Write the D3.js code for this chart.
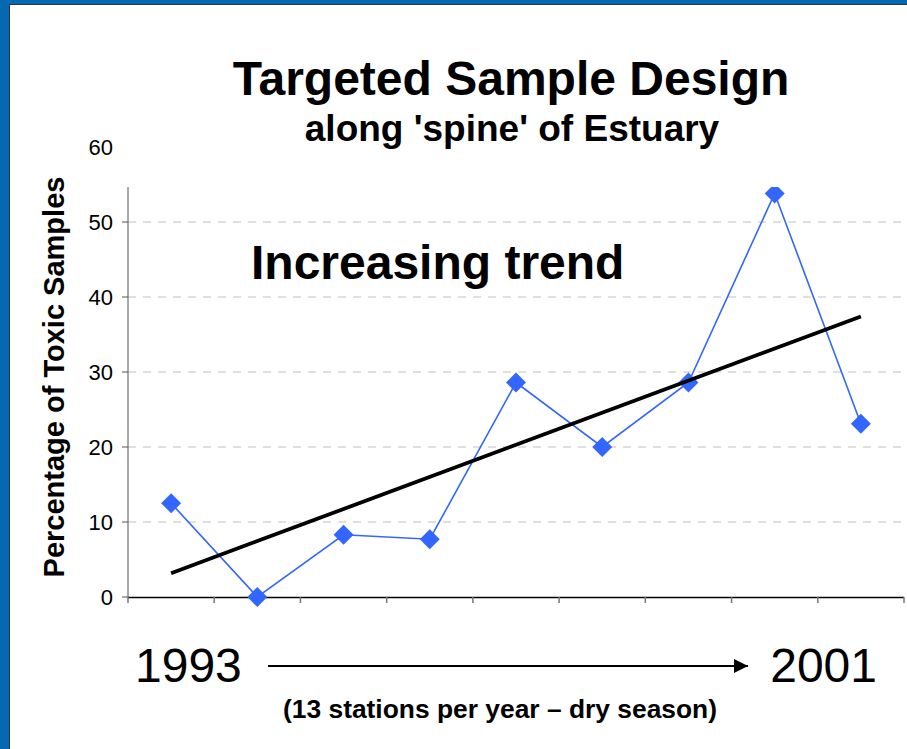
<!DOCTYPE html>
<html>
<head>
<meta charset="utf-8">
<script src="https://cdn.jsdelivr.net/npm/d3@7"></script>
<style>
  html, body { margin: 0; padding: 0; background: #fff; }
  svg { display: block; font-family: "Liberation Sans", Arial, sans-serif; }
</style>
</head>
<body>
<svg id="chart" width="907" height="749"></svg>
<script>
// ---- data ----
const years = ["1993", "1994", "1995", "1996", "1997", "1998", "1999", "2000", "2001"];
const percentToxic = [12.5, 0, 8.3, 7.7, 28.6, 20.0, 28.6, 53.8, 23.1];
const yTicks = [0, 10, 20, 30, 40, 50, 60];
const titleText = "Targeted Sample Design";
const subtitleText = "along 'spine' of Estuary";
const annotationText = "Increasing trend";
const yLabelText = "Percentage of Toxic Samples";
const startLabel = "1993";
const endLabel = "2001";
const footnoteText = "(13 stations per year \u2013 dry season)";

// ---- layout ----
const W = 907, H = 749;
const plot = { left: 128, right: 904, top: 187, bottom: 597 };

const svg = d3.select("#chart");

// frame
svg.append("rect").attr("x", 0).attr("y", 0).attr("width", W).attr("height", H).attr("fill", "#ffffff");
svg.append("rect").attr("x", 0).attr("y", 0).attr("width", W).attr("height", 4).attr("fill", "#0568b3");
svg.append("rect").attr("x", 0).attr("y", 0).attr("width", 9).attr("height", H).attr("fill", "#0568b3");
svg.append("line").attr("x1", 9.5).attr("x2", 9.5).attr("y1", 4).attr("y2", H).attr("stroke", "#333").attr("stroke-width", 1);
svg.append("line").attr("x1", 9).attr("x2", W).attr("y1", 4.5).attr("y2", 4.5).attr("stroke", "#333").attr("stroke-width", 1);

// scales
const x = d3.scaleBand().domain(years).range([plot.left, plot.right]);
const y = d3.scaleLinear().domain([0, 60]).range([plot.bottom, 147]);
const cx = d => x(d) + x.bandwidth() / 2;

// clip
svg.append("clipPath").attr("id", "plotClip")
  .append("rect").attr("x", plot.left - 20).attr("y", plot.top)
  .attr("width", plot.right - plot.left + 40).attr("height", plot.bottom - plot.top + 20);

// gridlines
svg.append("g").selectAll("line")
  .data(yTicks.filter(t => t > 0 && y(t) >= plot.top))
  .join("line")
  .attr("x1", plot.left).attr("x2", 906)
  .attr("y1", d => y(d)).attr("y2", d => y(d))
  .attr("stroke", "#c0c0c0").attr("stroke-width", 1).attr("stroke-dasharray", "8,7");

// y axis line and ticks
svg.append("line").attr("x1", plot.left).attr("x2", plot.left)
  .attr("y1", plot.top).attr("y2", plot.bottom).attr("stroke", "#555").attr("stroke-width", 1);
svg.append("g").selectAll("line")
  .data(yTicks.filter(t => y(t) >= plot.top))
  .join("line")
  .attr("x1", plot.left - 6).attr("x2", plot.left)
  .attr("y1", d => y(d)).attr("y2", d => y(d))
  .attr("stroke", "#555").attr("stroke-width", 1);
svg.append("g").selectAll("text")
  .data(yTicks)
  .join("text")
  .attr("x", 113).attr("y", d => y(d))
  .attr("dy", "0.36em")
  .attr("text-anchor", "end")
  .attr("font-size", 22)
  .attr("fill", "#000")
  .text(d => d);

// x axis
const xAxis = d3.axisBottom(x).tickSize(5).tickFormat("");
const gx = svg.append("g").attr("transform", `translate(0,${plot.bottom})`).call(xAxis);
gx.select(".domain").attr("stroke", "#000").attr("stroke-width", 1.5)
  .attr("d", `M${plot.left},0.5H${plot.right}`);
gx.selectAll(".tick").remove();
const boundaries = years.map(d => x(d)).concat([plot.right]);
gx.selectAll("line.bt").data(boundaries).join("line").attr("class", "bt")
  .attr("x1", d => d).attr("x2", d => d).attr("y1", 0).attr("y2", 6)
  .attr("stroke", "#777").attr("stroke-width", 1.5);

// trend line (least squares fit of the series)
const idx = percentToxic.map((_, i) => i + 1);
const mx = d3.mean(idx), my = d3.mean(percentToxic);
const slope = d3.sum(idx.map((v, i) => (v - mx) * (percentToxic[i] - my))) / d3.sum(idx.map(v => (v - mx) * (v - mx)));
const intercept = my - slope * mx;
const trend = [1, years.length].map(i => ({ year: years[i - 1], v: intercept + slope * i }));

const g = svg.append("g").attr("clip-path", "url(#plotClip)");

// series line
const data = years.map((yr, i) => ({ year: yr, v: percentToxic[i] }));
g.append("path").datum(data)
  .attr("fill", "none").attr("stroke", "#3366ff").attr("stroke-width", 1.6)
  .attr("d", d3.line().x(d => cx(d.year)).y(d => y(d.v)));

// markers
const dsize = 10;
g.selectAll("path.mk").data(data).join("path").attr("class", "mk")
  .attr("d", d => `M${cx(d.year)},${y(d.v) - dsize}L${cx(d.year) + dsize},${y(d.v)}L${cx(d.year)},${y(d.v) + dsize}L${cx(d.year) - dsize},${y(d.v)}Z`)
  .attr("fill", "#3366ff");

// trend
g.append("path").datum(trend)
  .attr("fill", "none").attr("stroke", "#000").attr("stroke-width", 3.8)
  .attr("d", d3.line().x(d => cx(d.year)).y(d => y(d.v)));

// titles
svg.append("text").attr("x", 511).attr("y", 95).attr("text-anchor", "middle")
  .attr("font-size", 48).attr("font-weight", "bold").text(titleText);
svg.append("text").attr("x", 512).attr("y", 141).attr("text-anchor", "middle")
  .attr("font-size", 37).attr("font-weight", "bold").text(subtitleText);
svg.append("text").attr("x", 251).attr("y", 279).attr("text-anchor", "start")
  .attr("font-size", 48).attr("font-weight", "bold").text(annotationText);

// y label
svg.append("text").attr("transform", "translate(64,377) rotate(-90)")
  .attr("text-anchor", "middle").attr("font-size", 29).attr("font-weight", "bold").text(yLabelText);

// bottom
svg.append("text").attr("x", 135).attr("y", 682).attr("font-size", 48).text(startLabel);
svg.append("text").attr("x", 877).attr("y", 682).attr("text-anchor", "end").attr("font-size", 48).text(endLabel);
svg.append("defs").append("marker").attr("id", "arr")
  .attr("viewBox", "0 0 10 10").attr("refX", 10).attr("refY", 5)
  .attr("markerWidth", 7).attr("markerHeight", 7).attr("markerUnits", "strokeWidth").attr("orient", "auto")
  .append("path").attr("d", "M0,0L10,5L0,10Z").attr("fill", "#000");
svg.append("line").attr("x1", 268).attr("x2", 748).attr("y1", 666).attr("y2", 666)
  .attr("stroke", "#000").attr("stroke-width", 2).attr("marker-end", "url(#arr)");
svg.append("text").attr("x", 500).attr("y", 718).attr("text-anchor", "middle")
  .attr("font-family", "'Liberation Sans Narrow', 'Arial Narrow', 'Liberation Sans', sans-serif")
  .attr("font-size", 26).attr("font-weight", "bold")
  .attr("textLength", 434).attr("lengthAdjust", "spacingAndGlyphs")
  .text(footnoteText);
</script>
</body>
</html>
